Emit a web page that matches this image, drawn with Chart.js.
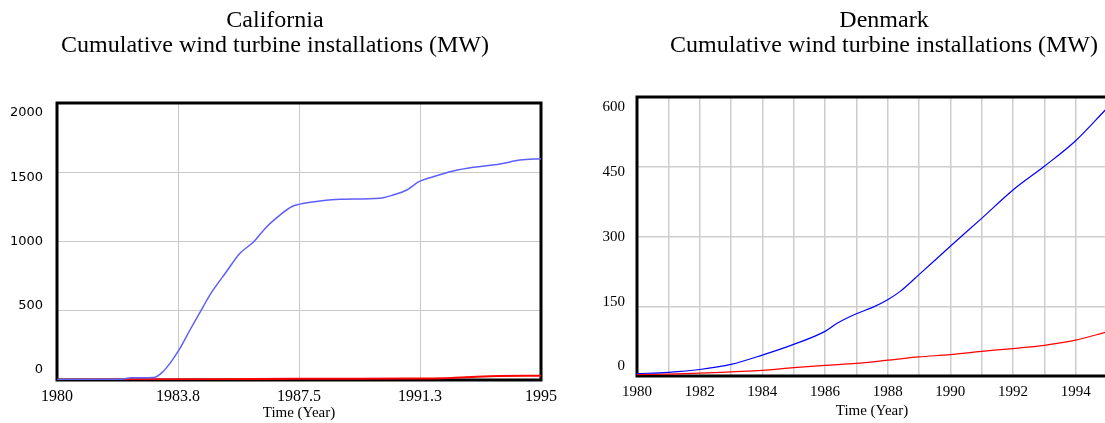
<!DOCTYPE html>
<html><head><meta charset="utf-8">
<script src="https://cdn.jsdelivr.net/npm/chart.js@4.4.0/dist/chart.umd.min.js"></script>
<style>
html,body{margin:0;padding:0;background:#fff;overflow:hidden;width:1105px;height:423px;}
#c1{position:absolute;left:-10px;top:0;}
#c2{position:absolute;left:560px;top:0;}
</style></head><body>
<canvas id="c1" width="570" height="423"></canvas>
<canvas id="c2" width="650" height="423"></canvas>
<script>
// ---------- data ----------
const xAxisTitle = 'Time (Year)';

const caTitle = ['California', 'Cumulative wind turbine installations (MW)'];
const caXTicks = [1980, 1983.75, 1987.5, 1991.25, 1995];
const caXTickLabels = ['1980', '1983.8', '1987.5', '1991.3', '1995'];
const caYTicks = [0, 500, 1000, 1500, 2000];
const caYTickLabels = ['0', '500', '1000', '1500', '2000'];
const caBlueYears  = [1980, 1981, 1982, 1982.3, 1983.0, 1983.26, 1983.5, 1983.78, 1984.12, 1984.53, 1984.74, 1985.25, 1985.67, 1986.08, 1986.5, 1986.91, 1987.27, 1987.5, 1988.15, 1988.77, 1990.0, 1990.42, 1990.84, 1991.22, 1991.66, 1992.28, 1992.9, 1993.73, 1994.35, 1995];
const caBlueValues = [4, 4, 5, 16, 18, 55, 120, 217, 361, 529, 614, 782, 915, 994, 1107, 1191, 1251, 1268, 1292, 1305, 1312, 1336, 1372, 1432, 1468, 1509, 1536, 1560, 1588, 1598];
const caRedYears  = [1980, 1982, 1985, 1987.5, 1991, 1992, 1992.5, 1993, 1993.7, 1995];
const caRedValues = [2, 3, 5, 9, 10, 12, 18, 24, 29, 30];

const dkTitle = ['Denmark', 'Cumulative wind turbine installations (MW)'];
const dkXGridYears = [1980, 1981, 1982, 1983, 1984, 1985, 1986, 1987, 1988, 1989, 1990, 1991, 1992, 1993, 1994, 1995];
const dkXTickLabels = ['1980', '1982', '1984', '1986', '1988', '1990', '1992', '1994'];
const dkYTicks = [0, 150, 300, 450, 600];
const dkYTickLabels = ['0', '150', '300', '450', '600'];
const dkBlueYears  = [1980, 1981, 1982, 1983, 1984, 1985, 1986, 1986.4, 1987, 1987.5, 1988, 1988.4, 1989, 1990, 1991, 1992, 1993, 1994, 1994.93, 1995];
const dkBlueValues = [5, 8, 14, 25, 45, 68, 96, 114, 134, 147, 164, 182, 218, 279, 339, 400, 451, 506, 571, 576];
const dkRedYears  = [1980, 1981, 1982, 1983, 1984, 1985, 1986, 1987, 1988, 1989, 1990, 1991, 1992, 1993, 1994, 1995];
const dkRedValues = [3, 4, 6, 9, 12, 18, 23, 27, 34, 41, 46, 53, 59, 66, 77, 95];

// ---------- helpers ----------
const pts = (xs, ys) => xs.map((x, i) => ({x: x, y: ys[i]}));
const SERIF = 'Liberation Serif';

const framePlugin = {
  id: 'frame',
  beforeDatasetsDraw(chart) {
    const {ctx, chartArea: a} = chart;
    ctx.save();
    ctx.strokeStyle = '#000';
    ctx.lineWidth = 3;
    ctx.strokeRect(a.left, a.top, a.right - a.left, a.bottom - a.top);
    ctx.restore();
  }
};

// re-centre the title block horizontally at a given canvas x
const titleCenterPlugin = {
  id: 'titleCenter',
  afterLayout(chart, args, opts) {
    const t = chart.titleBlock;
    if (!t || opts.center == null) return;
    const w = t.right - t.left;
    t.left = opts.center - w / 2;
    t.right = t.left + w;
  }
};

function makeChart(el, cfg) {
  return new Chart(el, {
    type: 'line',
    data: {
      datasets: [
        {data: pts(cfg.blueX, cfg.blueY), borderColor: cfg.blueColor, borderWidth: cfg.blueWidth, pointRadius: 0, cubicInterpolationMode: 'monotone', fill: false, xAxisID: 'x', yAxisID: 'y'},
        {data: pts(cfg.redX, cfg.redY), borderColor: '#ff0000', borderWidth: cfg.redWidth, pointRadius: 0, cubicInterpolationMode: 'monotone', fill: false, xAxisID: 'x', yAxisID: 'y'}
      ]
    },
    options: {
      responsive: false,
      animation: false,
      events: [],
      layout: {padding: {left: 0, top: 0, bottom: 0, right: cfg.padRight}},
      plugins: {
        legend: {display: false},
        tooltip: {enabled: false},
        titleCenter: {center: cfg.titleCenter},
        title: {
          display: true, text: cfg.title, color: '#000',
          font: {family: SERIF, size: 24, weight: 'normal', lineHeight: 25 / 24},
          padding: {top: 8, bottom: cfg.titleBottom}
        }
      },
      scales: {
        x: {
          type: 'linear', position: 'bottom', min: cfg.xMin, max: cfg.xMax,
          afterBuildTicks: s => { s.ticks = cfg.xGrid.map(v => ({value: v})); },
          ticks: {
            autoSkip: false, maxRotation: 0, minRotation: 0, color: '#000', padding: cfg.xTickPad,
            font: {family: SERIF, size: cfg.xFont},
            callback: cfg.xLabel
          },
          grid: {color: cfg.gridColor, lineWidth: cfg.gridWidth, drawTicks: false},
          border: {display: false},
          title: {display: true, text: xAxisTitle, color: '#000', font: {family: SERIF, size: 15}, padding: {top: 0, bottom: cfg.xTitleBottom}},
          afterFit: s => { s.height = cfg.xHeight; s.paddingLeft = 0; s.paddingRight = 0; }
        },
        y: {
          type: 'linear', position: 'left', weight: 0, min: cfg.yMin, max: cfg.yMax,
          afterBuildTicks: s => { s.ticks = cfg.yTicks.map(v => ({value: v})); },
          ticks: {display: false},
          grid: {color: cfg.gridColor, lineWidth: cfg.gridWidth, drawTicks: false},
          border: {display: false},
          afterFit: s => { s.width = 0; s.paddingTop = 0; s.paddingBottom = 0; }
        },
        yl: {
          type: 'linear', position: 'left', weight: 1, min: cfg.ylMin, max: cfg.ylMax,
          afterBuildTicks: s => { s.ticks = cfg.yTicks.map(v => ({value: v})); },
          ticks: {
            color: '#000', padding: cfg.yTickPad,
            font: {family: cfg.yFontFamily, size: cfg.yFont},
            callback: (v, i) => cfg.yLabels[i]
          },
          grid: {display: false, drawTicks: false},
          border: {display: false},
          afterFit: s => { s.width = cfg.yWidth; s.paddingTop = 0; s.paddingBottom = 0; }
        }
      }
    },
    plugins: [framePlugin, titleCenterPlugin]
  });
}

makeChart(document.getElementById('c1'), {
  title: caTitle, titleBottom: 45, padRight: 19, titleCenter: 285,
  xMin: 1980, xMax: 1995, xGrid: caXTicks, xFont: 16, xTickPad: 7, xHeight: 43, xTitleBottom: 1,
  xLabel: (v, i) => caXTickLabels[i],
  yMin: 0, yMax: 2000, yTicks: caYTicks, yLabels: caYTickLabels,
  ylMin: -77.8, ylMax: 2077.8, yWidth: 67, yTickPad: 14, yFont: 13, yFontFamily: 'DejaVu Sans',
  gridColor: '#c8c8c8', gridWidth: 1,
  blueX: caBlueYears, blueY: caBlueValues, blueColor: '#5f5fff', blueWidth: 1.5,
  redX: caRedYears, redY: caRedValues, redWidth: 2
});

makeChart(document.getElementById('c2'), {
  title: dkTitle, titleBottom: 39, padRight: 103, titleCenter: 324,
  xMin: 1980, xMax: 1995, xGrid: dkXGridYears, xFont: 15, xTickPad: 7, xHeight: 47, xTitleBottom: 3,
  xLabel: v => (dkXTickLabels.indexOf(String(v)) >= 0 ? String(v) : ''),
  yMin: 0, yMax: 600, yTicks: dkYTicks, yLabels: dkYTickLabels,
  ylMin: -22, ylMax: 623, yWidth: 77, yTickPad: 12, yFont: 15, yFontFamily: SERIF,
  gridColor: '#cdcdcd', gridWidth: 1.5,
  blueX: dkBlueYears, blueY: dkBlueValues, blueColor: '#0000ff', blueWidth: 1.2,
  redX: dkRedYears, redY: dkRedValues, redWidth: 1.2
});
</script>
</body></html>
